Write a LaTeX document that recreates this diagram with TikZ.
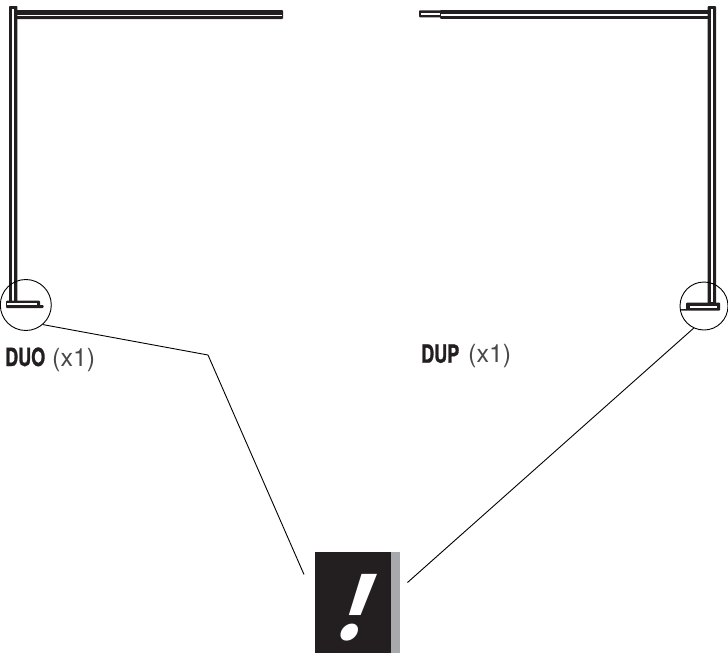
\documentclass[tikz,border=0pt]{standalone}
\usepackage{fontspec}
\setmainfont{TeX Gyre Heros}
\newfontfamily\cnbold[FakeStretch=0.72,FakeBold=1.2]{TeX Gyre Heros}
\newfontfamily\markfont{Fira Sans}
\definecolor{ink}{HTML}{231F20}
\definecolor{sidegrey}{HTML}{A7A9AC}
\definecolor{softink}{HTML}{4A4748}
\tikzset{
  x=1pt,y=-1pt,
  tube/.style={fill=ink,rounded corners=0.8pt},
  slit/.style={fill=white},
  detail/.style={circle,draw=black,line width=0.9pt,inner sep=0pt,fill=none},
  leader/.style={draw=black,line width=0.9pt},
  caption/.style={anchor=base west,inner sep=0pt,font=\fontsize{25}{25}\selectfont,text=ink},
  warnbox/.style={rectangle,fill=ink,inner sep=0pt,anchor=north west},
  warnside/.style={rectangle,fill=sidegrey,inner sep=0pt,anchor=north west},
  warnmark/.style={inner sep=0pt,text=white,anchor=base,font={\markfont\bfseries\itshape\fontsize{40}{40}\selectfont},
    transform shape,cm={2.35,0,0.5,2.35,(0,0)}},
}
\begin{document}
\begin{tikzpicture}
\useasboundingbox (0,0) rectangle (728,653);
% left stand
\path[tube] (16,10) rectangle (283,19);
\path[slit] (17.3,14.6) rectangle (282,15.9);
\path[tube] (9,6) rectangle (17.3,303);
\path[slit] (12.4,8.5) rectangle (14,301);
\path[tube] (6,300.7) rectangle (40,308);
\path[tube] (38,305) rectangle (43.5,308);
\path[slit] (7.4,302.7) rectangle (36.8,304.9);
% right stand
\path[tube] (419,10.3) rectangle (441,17.3);
\path[slit] (420.5,13) rectangle (439.5,15);
\path[tube] (440,10) rectangle (709,18.8);
\path[slit] (441,14.4) rectangle (707.7,15.6);
\path[tube] (707.7,6) rectangle (716,304);
\path[slit] (711,8.5) rectangle (713,302);
\path[tube] (686,302.7) rectangle (720,310.7);
\path[tube] (680.7,309) rectangle (687,310.7);
\path[slit] (690,305.6) rectangle (717,307.8);
% details
\node[detail,minimum size=51pt] (dl) at (25.8,305) {};
\node[detail,minimum size=48pt] (dr) at (704,306) {};
% warning
\node[warnbox,minimum width=76pt,minimum height=101pt] (warn) at (315,552) {};
\node[warnside,minimum width=8.3pt,minimum height=101pt] (warnedge) at (391,552) {};
\node[warnmark] (bang) at (350,639) {!};
% leaders
\coordinate (bend) at (208,355);
\coordinate (warnL) at (304,574.5);
\coordinate (warnR) at (407.5,582.5);
\draw[leader] (dl.-49) -- (bend) -- (warnL);
\draw[leader] (dr.245) -- (warnR);
% captions
\node[caption] (duo) at (5,366) {{\cnbold\bfseries DUO}};
\node[caption,text=softink] (duox) at (52,366) {(x1)};
\node[caption] (dup) at (421,362.7) {{\cnbold\bfseries DUP}};
\node[caption,text=softink] (dupx) at (468,362.7) {(x1)};
\end{tikzpicture}
\end{document}
